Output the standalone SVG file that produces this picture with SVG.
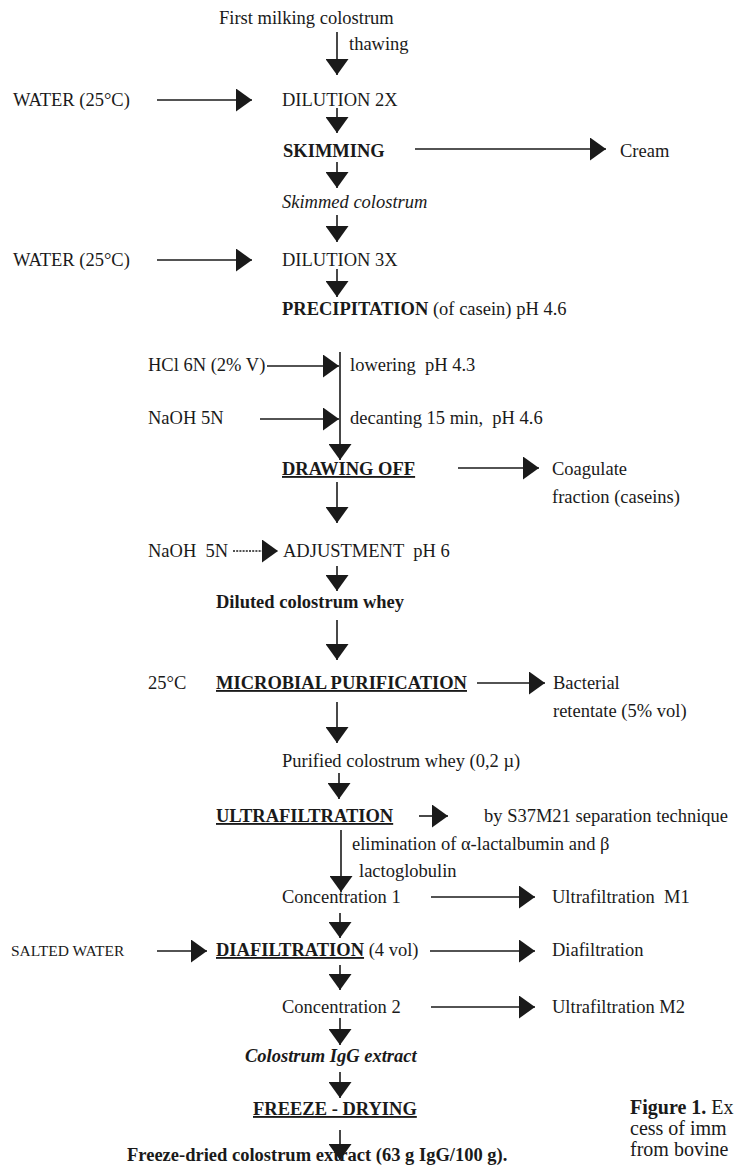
<svg xmlns="http://www.w3.org/2000/svg" width="738" height="1173" viewBox="0 0 738 1173">
<style>
text{font-family:"Liberation Serif","Times New Roman",serif;font-size:18.5px;fill:#1a1a1a;white-space:pre}
.b{font-weight:bold}
.i{font-style:italic}
.u{text-decoration:underline}
.sm{font-size:15.5px}
.cap{font-size:20px}
.c line{stroke:#1a1a1a;stroke-width:1.6;marker-end:url(#ah)}
.c line.d{stroke-dasharray:2,1.2}
</style>
<defs>
<marker id="ah" markerUnits="userSpaceOnUse" markerWidth="17" markerHeight="23" refX="16" refY="11.5" orient="auto">
<path d="M0,0 L16,11.5 L0,23 z" fill="#1a1a1a"/>
</marker>
</defs>
<rect width="738" height="1173" fill="#fff"/>
<g class="c" id="connectors">
<line x1="337" y1="32" x2="337" y2="75"/>
<line x1="157" y1="100" x2="252" y2="100"/>
<line x1="337" y1="108" x2="337" y2="133"/>
<line x1="415" y1="149" x2="606" y2="149"/>
<line x1="337" y1="162" x2="337" y2="188"/>
<line x1="337" y1="215" x2="337" y2="242"/>
<line x1="157" y1="260" x2="252" y2="260"/>
<line x1="337" y1="269" x2="337" y2="297"/>
<line x1="267" y1="366" x2="339" y2="366"/>
<line x1="340" y1="352" x2="340" y2="460"/>
<line x1="260" y1="419" x2="339" y2="419"/>
<line x1="458" y1="468" x2="539" y2="468"/>
<line x1="337" y1="482" x2="337" y2="523"/>
<line class="d" x1="233" y1="551" x2="278" y2="551"/>
<line x1="337" y1="566" x2="337" y2="591"/>
<line x1="337" y1="620" x2="337" y2="660"/>
<line x1="477" y1="683" x2="545" y2="683"/>
<line x1="337" y1="702" x2="337" y2="743"/>
<line x1="339" y1="773" x2="339" y2="799"/>
<line x1="419" y1="816" x2="448" y2="816"/>
<line x1="341" y1="830" x2="341" y2="892"/>
<line x1="431" y1="897" x2="535" y2="897"/>
<line x1="340" y1="913" x2="340" y2="938"/>
<line x1="157" y1="951" x2="207" y2="951"/>
<line x1="430" y1="951" x2="535" y2="951"/>
<line x1="340" y1="965" x2="340" y2="990"/>
<line x1="431" y1="1007" x2="535" y2="1007"/>
<line x1="340" y1="1018" x2="340" y2="1045"/>
<line x1="340" y1="1072" x2="340" y2="1098"/>
<line x1="340" y1="1130" x2="340" y2="1160"/>
</g>
<g id="n-start"><text x="219" y="24">First milking colostrum</text></g>
<g id="l-thawing"><text x="349" y="50">thawing</text></g>
<g id="n-water1"><text x="13" y="106">WATER (25°C)</text></g>
<g id="n-dil2"><text x="282" y="106">DILUTION 2X</text></g>
<g id="n-skim"><text class="b" x="283" y="157">SKIMMING</text></g>
<g id="n-cream"><text x="620" y="157">Cream</text></g>
<g id="n-skimmed"><text class="i" x="282" y="208">Skimmed colostrum</text></g>
<g id="n-water2"><text x="13" y="266">WATER (25°C)</text></g>
<g id="n-dil3"><text x="282" y="266">DILUTION 3X</text></g>
<g id="n-precip"><text x="282" y="315"><tspan class="b">PRECIPITATION</tspan> (of casein) pH 4.6</text></g>
<g id="n-hcl"><text x="148" y="371">HCl 6N (2% V)</text></g>
<g id="l-lowering"><text x="350" y="371">lowering  pH 4.3</text></g>
<g id="n-naoh1"><text x="148" y="424">NaOH 5N</text></g>
<g id="l-decant"><text x="350" y="424">decanting 15 min,  pH 4.6</text></g>
<g id="n-drawing"><text class="b u" x="282" y="475">DRAWING OFF</text></g>
<g id="n-coag"><text x="552" y="475">Coagulate</text><text x="552" y="503">fraction (caseins)</text></g>
<g id="n-naoh2"><text x="148" y="557">NaOH  5N</text></g>
<g id="n-adjust"><text x="283" y="557">ADJUSTMENT  pH 6</text></g>
<g id="n-diluted"><text class="b" x="216" y="608">Diluted colostrum whey</text></g>
<g id="n-25c"><text x="148" y="689">25°C</text></g>
<g id="n-micro"><text class="b u" x="216" y="689">MICROBIAL PURIFICATION</text></g>
<g id="n-bact"><text x="553" y="689">Bacterial</text><text x="553" y="717">retentate (5% vol)</text></g>
<g id="n-purified"><text x="282" y="767">Purified colostrum whey (0,2 µ)</text></g>
<g id="n-ultra"><text class="b u" x="216" y="822">ULTRAFILTRATION</text></g>
<g id="n-s37"><text x="484" y="822">by S37M21 separation technique</text></g>
<g id="l-elim"><text x="352" y="850">elimination of α-lactalbumin and β</text><text x="359" y="877">lactoglobulin</text></g>
<g id="n-conc1"><text x="282" y="903">Concentration 1</text></g>
<g id="n-ufm1"><text x="552" y="903">Ultrafiltration  M1</text></g>
<g id="n-salted"><text class="sm" x="11" y="956">SALTED WATER</text></g>
<g id="n-diaf"><text x="216" y="956"><tspan class="b u">DIAFILTRATION</tspan> (4 vol)</text></g>
<g id="n-diafout"><text x="552" y="956">Diafiltration</text></g>
<g id="n-conc2"><text x="282" y="1013">Concentration 2</text></g>
<g id="n-ufm2"><text x="552" y="1013">Ultrafiltration M2</text></g>
<g id="n-igg"><text class="b i" x="245" y="1062">Colostrum IgG extract</text></g>
<g id="n-freeze"><text class="b u" x="253" y="1115">FREEZE - DRYING</text></g>
<g id="n-final"><text class="b" x="127" y="1161">Freeze-dried colostrum extract (63 g IgG/100 g).</text></g>
<g id="caption">
<text class="cap" x="630" y="1114"><tspan class="b">Figure 1.</tspan> Ex</text>
<text class="cap" x="630" y="1135">cess of imm</text>
<text class="cap" x="630" y="1156">from bovine</text>
</g>
</svg>
